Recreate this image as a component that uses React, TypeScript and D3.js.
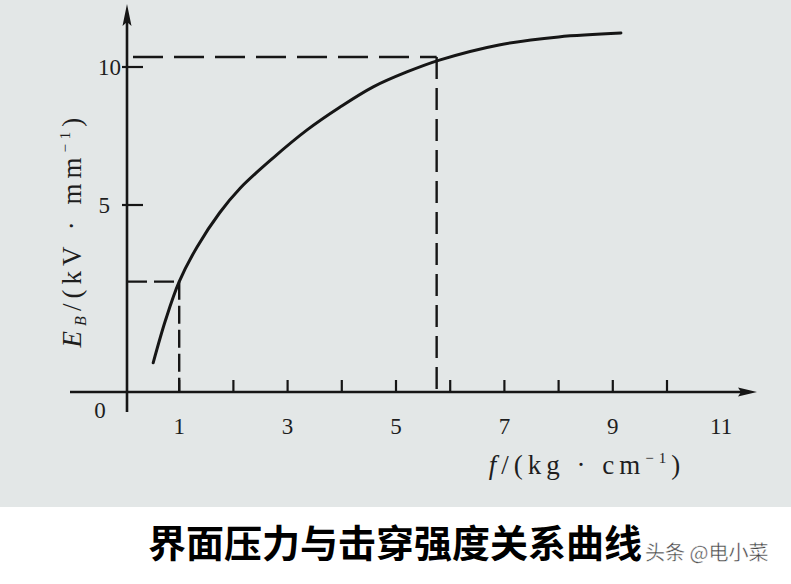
import React from "react";
import * as d3 from "d3";

// ---- data ----
const curveF = [0.52, 0.75, 1.0, 1.33, 1.75, 2.12, 2.73, 3.36, 3.97, 4.58, 5.2, 5.8, 6.9, 8.0, 9.15];
const curveE = [0.78, 1.93, 2.95, 3.88, 4.8, 5.6, 6.7, 7.72, 8.55, 9.28, 9.82, 10.25, 10.8, 11.09, 11.23];
const xTickLabels = [1, 3, 5, 7, 9, 11];
const xTickMarks = [1, 2, 3, 4, 5, 6, 7, 8, 9, 10];
const yTickLabels = [5, 10];
const markLow = { f: 1.0, e: 2.95 };
const markHigh = { f: 5.75, e: 10.36 };
const caption = "界面压力与击穿强度关系曲线";
const watermark = "头条 @电小菜";

const W = 791;
const H = 584;

export default function App() {
  React.useEffect(() => {
    document.body.style.margin = "0";
  }, []);

  const x = d3.scaleLinear().domain([0, 10]).range([125, 667]);
  // the printed axis is not uniform: 0..5 and 5..10 have different spacing
  const y = d3.scaleLinear().domain([0, 5, 10]).range([392, 205, 67]);

  const axisX = 127;
  const axisY = 392;
  const ink = "#161616";
  const serif = "'Liberation Serif', 'DejaVu Serif', serif";

  const pts: [number, number][] = curveF.map((f, i) => [x(f), y(curveE[i])]);
  const line = d3.line().curve(d3.curveCatmullRom.alpha(0.5))(pts) || "";

  return (
    <svg width={W} height={H} viewBox={`0 0 ${W} ${H}`} style={{ display: "block" }}>
      <rect x={0} y={0} width={W} height={507} fill="#e3e7e7" />
      <rect x={0} y={507} width={W} height={H - 507} fill="#ffffff" />

      {/* dashed guide lines */}
      <line x1={axisX} x2={x(markLow.f)} y1={y(markLow.e)} y2={y(markLow.e)} stroke={ink} strokeWidth={2.4} strokeDasharray="20 7" />
      <line x1={x(markLow.f)} x2={x(markLow.f)} y1={y(markLow.e)} y2={axisY} stroke={ink} strokeWidth={2.4} strokeDasharray="18 6" />
      <line x1={axisX} x2={x(markHigh.f)} y1={y(markHigh.e)} y2={y(markHigh.e)} stroke={ink} strokeWidth={2.4} strokeDasharray="30 11" strokeDashoffset={-6} />
      <line x1={x(markHigh.f)} x2={x(markHigh.f)} y1={y(markHigh.e)} y2={axisY} stroke={ink} strokeWidth={2.4} strokeDasharray="22 9" />

      {/* axes */}
      <line x1={70} x2={745} y1={axisY} y2={axisY} stroke={ink} strokeWidth={2.6} />
      <path d={`M757,${axisY} L738,${axisY - 4.5} L741,${axisY} L738,${axisY + 4.5} Z`} fill={ink} />
      <line x1={axisX} x2={axisX} y1={412} y2={18} stroke={ink} strokeWidth={2.6} />
      <path d={`M${axisX},4 L${axisX - 4.5},26 L${axisX},22 L${axisX + 4.5},26 Z`} fill={ink} />

      {/* x tick marks */}
      {xTickMarks.map((t) => (
        <line key={t} x1={x(t)} x2={x(t)} y1={axisY} y2={axisY - 12} stroke={ink} strokeWidth={2.2} />
      ))}
      {/* y tick marks */}
      {yTickLabels.map((t) => (
        <line key={t} x1={axisX - 5} x2={axisX + 16} y1={y(t)} y2={y(t)} stroke={ink} strokeWidth={2.2} />
      ))}

      {/* curve */}
      <path d={line} fill="none" stroke={ink} strokeWidth={3} strokeLinecap="round" />

      {/* tick labels */}
      <g fontFamily={serif} fontSize={23} fill="#1e1e1e">
        <text x={100} y={418} textAnchor="middle">0</text>
        {xTickLabels.map((t) => (
          <text key={t} x={x(t)} y={434} textAnchor="middle">{t}</text>
        ))}
        {yTickLabels.map((t) => (
          <text key={t} x={t === 10 ? 121 : 110} y={y(t) + 8} textAnchor="end">{t}</text>
        ))}
      </g>

      {/* axis titles */}
      <text
        transform="translate(81,230) rotate(-90)"
        textAnchor="middle"
        fontFamily={serif}
        fontSize={27}
        fill="#1e1e1e"
        letterSpacing={5}
      >
        <tspan fontStyle="italic">E</tspan>
        <tspan fontSize={16} dy={5} fontStyle="italic">B</tspan>
        <tspan dy={-5}>/(kV · mm</tspan>
        <tspan fontSize={15} dy={-11}>−1</tspan>
        <tspan dy={11}>)</tspan>
      </text>
      <text x={587} y={474} textAnchor="middle" fontFamily={serif} fontSize={27} fill="#1e1e1e" letterSpacing={5}>
        <tspan fontStyle="italic">f</tspan>
        <tspan>/(kg · cm</tspan>
        <tspan fontSize={15} dy={-11}>−1</tspan>
        <tspan dy={11}>)</tspan>
      </text>

      {/* caption */}
      <text x={395} y={557} textAnchor="middle" fontFamily="'Noto Sans CJK SC', sans-serif" fontWeight={700} fontSize={38} fill="#000">
        {caption}
      </text>
      <text x={645} y={560} fontFamily="'Noto Sans CJK SC', sans-serif" fontSize={20} fill="#444" stroke="#fff" strokeWidth={0.4}>
        {watermark}
      </text>
    </svg>
  );
}
